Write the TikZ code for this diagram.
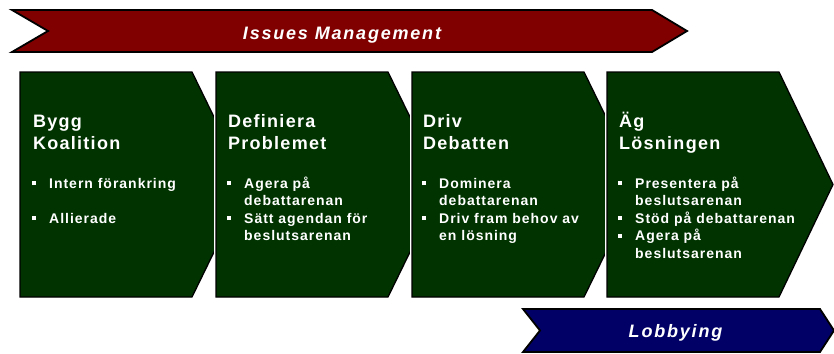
\documentclass[tikz,border=0pt]{standalone}
\usepackage{fontspec}
\setmainfont{Liberation Sans}
\newfontfamily\stagefont[LetterSpace=7]{Liberation Sans}
\newfontfamily\bannerfont[LetterSpace=10]{Liberation Sans}
\definecolor{stagegreen}{HTML}{003300}
\definecolor{issuered}{HTML}{800000}
\definecolor{lobbyblue}{HTML}{000066}
% square bullet hanging to the left of the item text
\newcommand\bul{\makebox[0pt][r]{\raisebox{3pt}{\rule{4pt}{4pt}}\hspace{13pt}}}

\begin{document}
\begin{tikzpicture}[x=1pt,y=-1pt,
  stage/.style={fill=stagegreen, draw=black, line width=1.3pt, line join=miter,
    preaction={draw=white, line width=4pt}},
  banner/.style={draw=black, line width=1.8pt, line join=miter},
  % multi-line nodes: the base anchor sits on the last line's baseline
  stagetitle/.style={anchor=base west, inner sep=0pt, align=left, text=white,
    font=\stagefont\bfseries\fontsize{18}{22.5}\selectfont},
  stageitems/.style={anchor=base west, inner sep=0pt, align=left, text=white,
    font=\stagefont\bfseries\fontsize{14}{17.5}\selectfont},
  bannertext/.style={anchor=base, inner sep=0pt, text=white,
    font=\bannerfont\bfseries\itshape\fontsize{18}{22}\selectfont}]
\useasboundingbox (0,0) rectangle (834,353);

% top banner
\fill[white] (0,0) rectangle (834,353);
\draw[banner, fill=issuered] (12,10) -- (652,10) -- (687,31) -- (652,52) -- (12,52) -- (48,31) -- cycle;
\node[bannertext] (issues) at (342,40) {Issues Management};

% four stage chevrons, each one overlapping the tip of the previous
\draw[stage] (20,72) -- (192,72) -- (247,184.5) -- (192,297) -- (20,297) -- cycle;
\draw[stage] (216,72) -- (388,72) -- (443,184.5) -- (388,297) -- (216,297) -- cycle;
\draw[stage] (412,72) -- (584,72) -- (639,184.5) -- (584,297) -- (412,297) -- cycle;
\draw[stage] (607,72) -- (779,72) -- (833,184.5) -- (779,297) -- (607,297) -- cycle;

\node[stagetitle] (t1) at (33,149.5) {Bygg\\Koalition};
\node[stagetitle] (t2) at (228,149.5) {Definiera\\Problemet};
\node[stagetitle] (t3) at (423,149.5) {Driv\\Debatten};
\node[stagetitle] (t4) at (619,149.5) {Äg\\Lösningen};

\node[stageitems] (b1) at (49,223) {\bul Intern förankring\\[17.5pt]\bul Allierade};
\node[stageitems] (b2) at (244,240.5) {\bul Agera på\\debattarenan\\\bul Sätt agendan för\\beslutsarenan};
\node[stageitems] (b3) at (439,240.5) {\bul Dominera\\debattarenan\\\bul Driv fram behov av\\en lösning};
\node[stageitems] (b4) at (635,258) {\bul Presentera på\\beslutsarenan\\\bul Stöd på debattarenan\\\bul Agera på\\beslutsarenan};

% bottom banner
\draw[banner, fill=lobbyblue] (523,309) -- (820,309) -- (834,330.5) -- (820,352) -- (523,352) -- (540,330.5) -- cycle;
\node[bannertext] (lobby) at (675.5,337) {Lobbying};
\end{tikzpicture}
\end{document}
